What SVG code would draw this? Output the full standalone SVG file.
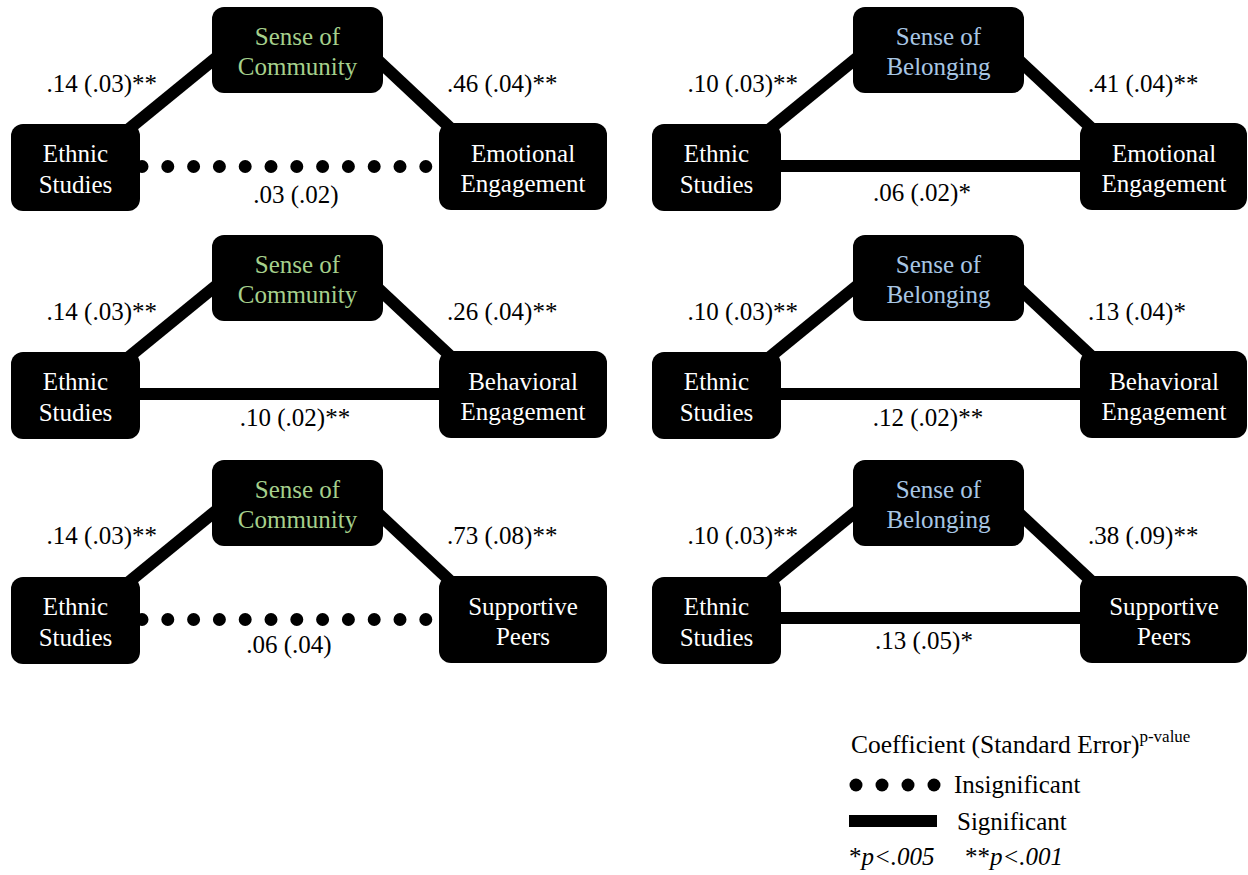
<svg xmlns="http://www.w3.org/2000/svg" width="1248" height="875" viewBox="0 0 1248 875" font-family="'Liberation Serif', 'DejaVu Serif', serif" font-size="25">
<style>
text { font-family: 'Liberation Serif', 'DejaVu Serif', serif; font-size: 25px; }
.node rect { fill: #000; }
.nt { fill: #ffffff; text-anchor: middle; }
.green { fill: #a6d08c; text-anchor: middle; }
.blue { fill: #a8c6e4; text-anchor: middle; }
.lbl { fill: #000; }
.end { text-anchor: end; }
.mid { text-anchor: middle; }
.sig { stroke: #000; stroke-width: 12; fill: none; }
.ins { stroke: #000; stroke-width: 13; fill: none; stroke-linecap: round; stroke-dasharray: 0 25.8; }
</style>
<rect width="1248" height="875" fill="#fff"/>

<g id="connectors">
  <line class="sig" x1="125" y1="132.2" x2="222" y2="52.8"/>
  <line class="sig" x1="373" y1="55.6" x2="456" y2="133.4"/>
  <line class="ins" x1="142" y1="166.5" x2="426.5" y2="166.5"/>
  <line class="sig" x1="125" y1="360.2" x2="222" y2="280.8"/>
  <line class="sig" x1="373" y1="283.6" x2="456" y2="361.4"/>
  <line class="sig" x1="130" y1="394" x2="450" y2="394"/>
  <line class="sig" x1="125" y1="585.2" x2="222" y2="505.8"/>
  <line class="sig" x1="373" y1="508.6" x2="456" y2="586.4"/>
  <line class="ins" x1="142" y1="619.5" x2="426.5" y2="619.5"/>
  <line class="sig" x1="766" y1="132.2" x2="863" y2="52.8"/>
  <line class="sig" x1="1014" y1="55.6" x2="1097" y2="133.4"/>
  <line class="sig" x1="771" y1="166" x2="1091" y2="166"/>
  <line class="sig" x1="766" y1="360.2" x2="863" y2="280.8"/>
  <line class="sig" x1="1014" y1="283.6" x2="1097" y2="361.4"/>
  <line class="sig" x1="771" y1="394" x2="1091" y2="394"/>
  <line class="sig" x1="766" y1="585.2" x2="863" y2="505.8"/>
  <line class="sig" x1="1014" y1="508.6" x2="1097" y2="586.4"/>
  <line class="sig" x1="771" y1="618" x2="1091" y2="618"/>
</g>

<g id="L1-ethnic" class="node"><rect x="11" y="124" width="129" height="87" rx="12"/><text class="nt" x="75.5" y="162">Ethnic</text><text class="nt" x="75.5" y="193">Studies</text></g>
<g id="L1-community" class="node"><rect x="212" y="7" width="171" height="86" rx="12"/><text class="green" x="297.5" y="45">Sense of</text><text class="green" x="297.5" y="75">Community</text></g>
<g id="L1-emotional" class="node"><rect x="439" y="123" width="168" height="87" rx="12"/><text class="nt" x="523" y="162">Emotional</text><text class="nt" x="523" y="192">Engagement</text></g>

<g id="L2-ethnic" class="node"><rect x="11" y="352" width="129" height="87" rx="12"/><text class="nt" x="75.5" y="390">Ethnic</text><text class="nt" x="75.5" y="421">Studies</text></g>
<g id="L2-community" class="node"><rect x="212" y="235" width="171" height="86" rx="12"/><text class="green" x="297.5" y="273">Sense of</text><text class="green" x="297.5" y="303">Community</text></g>
<g id="L2-behavioral" class="node"><rect x="439" y="351" width="168" height="87" rx="12"/><text class="nt" x="523" y="390">Behavioral</text><text class="nt" x="523" y="420">Engagement</text></g>

<g id="L3-ethnic" class="node"><rect x="11" y="577" width="129" height="87" rx="12"/><text class="nt" x="75.5" y="615">Ethnic</text><text class="nt" x="75.5" y="646">Studies</text></g>
<g id="L3-community" class="node"><rect x="212" y="460" width="171" height="86" rx="12"/><text class="green" x="297.5" y="498">Sense of</text><text class="green" x="297.5" y="528">Community</text></g>
<g id="L3-peers" class="node"><rect x="439" y="576" width="168" height="87" rx="12"/><text class="nt" x="523" y="615">Supportive</text><text class="nt" x="523" y="645">Peers</text></g>

<g id="R1-ethnic" class="node"><rect x="652" y="124" width="129" height="87" rx="12"/><text class="nt" x="716.5" y="162">Ethnic</text><text class="nt" x="716.5" y="193">Studies</text></g>
<g id="R1-belonging" class="node"><rect x="853" y="7" width="171" height="86" rx="12"/><text class="blue" x="938.5" y="45">Sense of</text><text class="blue" x="938.5" y="75">Belonging</text></g>
<g id="R1-emotional" class="node"><rect x="1080" y="123" width="167" height="87" rx="12"/><text class="nt" x="1164" y="162">Emotional</text><text class="nt" x="1164" y="192">Engagement</text></g>

<g id="R2-ethnic" class="node"><rect x="652" y="352" width="129" height="87" rx="12"/><text class="nt" x="716.5" y="390">Ethnic</text><text class="nt" x="716.5" y="421">Studies</text></g>
<g id="R2-belonging" class="node"><rect x="853" y="235" width="171" height="86" rx="12"/><text class="blue" x="938.5" y="273">Sense of</text><text class="blue" x="938.5" y="303">Belonging</text></g>
<g id="R2-behavioral" class="node"><rect x="1080" y="351" width="167" height="87" rx="12"/><text class="nt" x="1164" y="390">Behavioral</text><text class="nt" x="1164" y="420">Engagement</text></g>

<g id="R3-ethnic" class="node"><rect x="652" y="577" width="129" height="87" rx="12"/><text class="nt" x="716.5" y="615">Ethnic</text><text class="nt" x="716.5" y="646">Studies</text></g>
<g id="R3-belonging" class="node"><rect x="853" y="460" width="171" height="86" rx="12"/><text class="blue" x="938.5" y="498">Sense of</text><text class="blue" x="938.5" y="528">Belonging</text></g>
<g id="R3-peers" class="node"><rect x="1080" y="576" width="167" height="87" rx="12"/><text class="nt" x="1164" y="615">Supportive</text><text class="nt" x="1164" y="645">Peers</text></g>

<g id="labels">
  <text class="lbl end" x="157" y="92">.14 (.03)**</text>
  <text class="lbl" x="447" y="92">.46 (.04)**</text>
  <text class="lbl mid" x="296" y="203">.03 (.02)</text>
  <text class="lbl end" x="157" y="320">.14 (.03)**</text>
  <text class="lbl" x="447" y="320">.26 (.04)**</text>
  <text class="lbl mid" x="295" y="426">.10 (.02)**</text>
  <text class="lbl end" x="157" y="544">.14 (.03)**</text>
  <text class="lbl" x="447" y="544">.73 (.08)**</text>
  <text class="lbl mid" x="289" y="653">.06 (.04)</text>

  <text class="lbl end" x="798" y="92">.10 (.03)**</text>
  <text class="lbl" x="1088" y="92">.41 (.04)**</text>
  <text class="lbl mid" x="922" y="201">.06 (.02)*</text>
  <text class="lbl end" x="798" y="320">.10 (.03)**</text>
  <text class="lbl" x="1088" y="320">.13 (.04)*</text>
  <text class="lbl mid" x="928" y="426">.12 (.02)**</text>
  <text class="lbl end" x="798" y="544">.10 (.03)**</text>
  <text class="lbl" x="1088" y="544">.38 (.09)**</text>
  <text class="lbl mid" x="924" y="649">.13 (.05)*</text>
</g>

<g id="legend">
  <text class="lbl" x="851" y="753" style="font-size:25.5px">Coefficient (Standard Error)<tspan style="font-size:17px" dy="-11">p-value</tspan></text>
  <g fill="#000"><circle cx="856" cy="785" r="6.5"/><circle cx="882" cy="785" r="6.5"/><circle cx="908" cy="785" r="6.5"/><circle cx="934" cy="785" r="6.5"/></g>
  <text class="lbl" x="954" y="793">Insignificant</text>
  <rect x="849" y="815" width="88" height="12" fill="#000"/>
  <text class="lbl" x="957" y="830">Significant</text>
  <text class="lbl" x="849" y="865"><tspan>*</tspan><tspan font-style="italic">p&lt;.005</tspan><tspan x="965">**</tspan><tspan font-style="italic">p&lt;.001</tspan></text>
</g>
</svg>
